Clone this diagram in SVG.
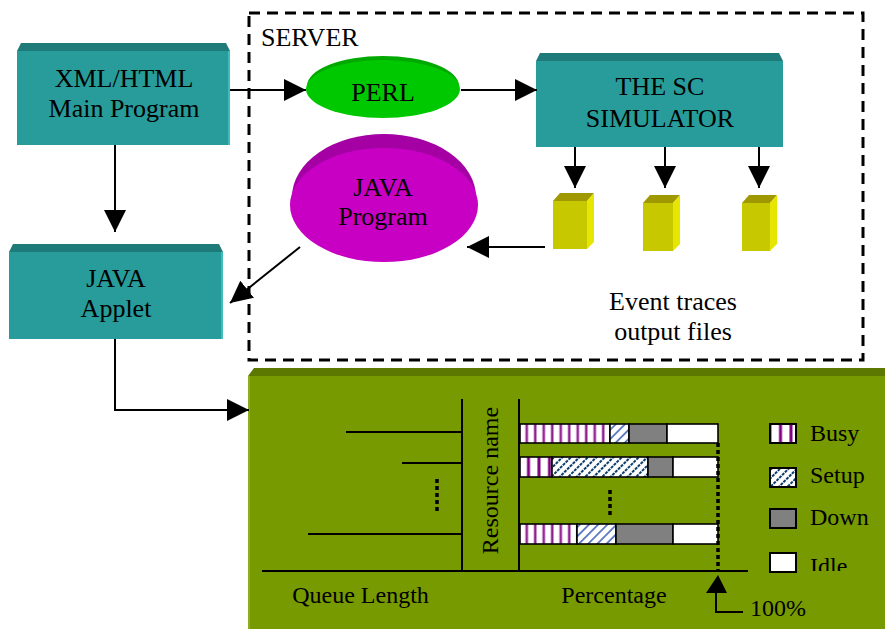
<svg xmlns="http://www.w3.org/2000/svg" width="885" height="629" viewBox="0 0 885 629">
  <defs>
    <marker id="arr" markerUnits="userSpaceOnUse" markerWidth="24" markerHeight="24" refX="22" refY="11" orient="auto">
      <path d="M0,0 L22,11 L0,22 z" fill="#000"/>
    </marker>
    <!-- busy: purple vertical stripes -->
    <pattern id="busyThin" patternUnits="userSpaceOnUse" x="520" y="0" width="8.5" height="10">
      <rect width="8.5" height="10" fill="#fff"/>
      <rect x="5" width="3.5" height="10" fill="#d8a8d8"/>
      <rect x="5.8" width="1.9" height="10" fill="#8e1e8e"/>
    </pattern>
    <pattern id="busyThick" patternUnits="userSpaceOnUse" x="520" y="0" width="10.5" height="10">
      <rect width="10.5" height="10" fill="#fff"/>
      <rect x="7" width="3" height="10" fill="#800080"/>
    </pattern>
    <!-- setup: diagonal hatching -->
    <pattern id="setupLight" patternUnits="userSpaceOnUse" width="6.5" height="8" patternTransform="rotate(45)">
      <rect width="6.5" height="8" fill="#fff"/>
      <rect x="0" width="1.8" height="8" fill="#5a78c0"/>
    </pattern>
    <pattern id="setupDark" patternUnits="userSpaceOnUse" width="6" height="8" patternTransform="rotate(45)">
      <rect width="6" height="8" fill="#fff"/>
      <line x1="1" y1="0" x2="1" y2="8" stroke="#0c3c6c" stroke-width="2" stroke-dasharray="3 1"/>
    </pattern>
    <clipPath id="idleClip">
      <rect x="800" y="540" width="85" height="31"/>
    </clipPath>
    <style>
      .t { font-family: "Liberation Serif", "Times New Roman", serif; fill: #000; }
      .big { font-size: 26px; text-anchor: middle; }
      .mid { font-size: 24px; }
      .face { fill: #279c9a; }
      .bevel { fill: #1f7b79; }
      .edge { fill: #3fbcbc; }
      .conn { stroke: #000; stroke-width: 2; fill: none; }
      .cubeF { fill: #c8c800; }
      .cubeT { fill: #a09800; }
      .cubeS { fill: #e6e600; }
      .bar { stroke: #000; stroke-width: 1.6; }
      .dots { stroke: #000; stroke-width: 3.5; stroke-dasharray: 4 3; fill: none; }
      .axis { stroke: #000; stroke-width: 2; fill: none; }
    </style>
  </defs>

  <rect width="885" height="629" fill="#fff"/>

  <!-- server boundary -->
  <g id="server">
    <rect x="249" y="13" width="614" height="347" fill="none" stroke="#000" stroke-width="3" stroke-dasharray="11 7"/>
    <text class="t" x="261" y="46" font-size="26">SERVER</text>
  </g>

  <!-- XML/HTML main program -->
  <g id="xml-main">
    <polygon class="bevel" points="17,51 21,43 226,43 230,51"/>
    <rect class="face" x="17" y="51" width="213" height="94"/>
    <rect class="edge" x="228" y="51" width="2" height="94"/>
    <text class="t big" x="124" y="87">XML/HTML</text>
    <text class="t big" x="124" y="117">Main Program</text>
  </g>

  <!-- PERL -->
  <g id="perl">
    <ellipse cx="383" cy="86" rx="76" ry="30" fill="#00a800"/>
    <ellipse cx="383" cy="89" rx="77" ry="29" fill="#00c800"/>
    <text class="t big" x="383" y="101">PERL</text>
  </g>

  <!-- simulator -->
  <g id="simulator">
    <polygon class="bevel" points="536,61 540,53 779,53 783,61"/>
    <rect class="face" x="536" y="61" width="247" height="86"/>
    <text class="t big" x="660" y="95">THE SC</text>
    <text class="t big" x="660" y="127">SIMULATOR</text>
  </g>

  <!-- event trace files -->
  <g id="trace-file-1">
    <polygon class="cubeT" points="553,201 560,193 594,193 587,201"/>
    <polygon class="cubeS" points="587,201 594,193 594,242 587,249"/>
    <rect class="cubeF" x="553" y="201" width="34" height="48"/>
  </g>
  <g id="trace-file-2">
    <polygon class="cubeT" points="643,203 650,195 680,195 673,203"/>
    <polygon class="cubeS" points="673,203 680,195 680,244 673,251"/>
    <rect class="cubeF" x="643" y="203" width="30" height="48"/>
  </g>
  <g id="trace-file-3">
    <polygon class="cubeT" points="742,203 749,195 777,195 770,203"/>
    <polygon class="cubeS" points="770,203 777,195 777,244 770,251"/>
    <rect class="cubeF" x="742" y="203" width="28" height="48"/>
  </g>
  <g id="trace-label">
    <text class="t big" x="673" y="310">Event traces</text>
    <text class="t big" x="673" y="340">output files</text>
  </g>

  <!-- JAVA program -->
  <g id="java-program">
    <ellipse cx="384" cy="197" rx="92" ry="63" fill="#a400a4"/>
    <ellipse cx="384" cy="205" rx="94" ry="57" fill="#c800c4"/>
    <text class="t big" x="383" y="196">JAVA</text>
    <text class="t big" x="383" y="225">Program</text>
  </g>

  <!-- JAVA applet -->
  <g id="java-applet">
    <polygon class="bevel" points="9,252 13,244 219,244 223,252"/>
    <rect class="face" x="9" y="252" width="214" height="87"/>
    <rect class="edge" x="221" y="252" width="2" height="87"/>
    <text class="t big" x="116" y="287">JAVA</text>
    <text class="t big" x="116" y="317">Applet</text>
  </g>

  <!-- result chart panel -->
  <g id="chart">
    <polygon points="248,376 254,368 885,368 885,376" fill="#5c7800"/>
    <rect x="248" y="376" width="637" height="253" fill="#779a00"/>
    <rect x="248" y="376" width="2" height="253" fill="#8cae20"/>

    <!-- queue length side -->
    <path class="axis" d="M262,571 H748 M462,399 V572 M519,399 V572"/>
    <path class="axis" d="M346,432 H462 M402,463 H462 M308,534 H462"/>
    <path class="dots" d="M437,479 V513"/>
    <text class="t mid" transform="translate(498,480.5) rotate(-90)" text-anchor="middle">Resource name</text>
    <text class="t mid" x="360.5" y="603" text-anchor="middle">Queue Length</text>

    <!-- bar 1 -->
    <rect class="bar" x="520" y="424" width="90" height="19" fill="url(#busyThin)"/>
    <rect class="bar" x="610" y="424" width="19" height="19" fill="url(#setupLight)"/>
    <rect class="bar" x="629" y="424" width="38" height="19" fill="#808080"/>
    <rect class="bar" x="667" y="424" width="51" height="19" fill="#fff"/>
    <!-- bar 2 -->
    <rect class="bar" x="520" y="457" width="32" height="20" fill="url(#busyThick)"/>
    <rect class="bar" x="552" y="457" width="96" height="20" fill="url(#setupDark)"/>
    <rect class="bar" x="648" y="457" width="25" height="20" fill="#808080"/>
    <rect class="bar" x="673" y="457" width="45" height="20" fill="#fff"/>
    <!-- bar 3 -->
    <rect class="bar" x="520" y="524" width="57" height="20" fill="url(#busyThin)"/>
    <rect class="bar" x="577" y="524" width="39" height="20" fill="url(#setupLight)"/>
    <rect class="bar" x="616" y="524" width="57" height="20" fill="#808080"/>
    <rect class="bar" x="673" y="524" width="45" height="20" fill="#fff"/>

    <path class="dots" d="M610,490 V517"/>
    <path class="dots" d="M718,443 V571"/>
    <polygon points="718,575 706,593 727,593" fill="#000"/>
    <path class="axis" d="M716,593 V612 H743"/>
    <text class="t mid" x="750" y="616">100%</text>
    <text class="t mid" x="614" y="603" text-anchor="middle">Percentage</text>

    <!-- legend -->
    <rect x="770" y="424" width="26" height="19" fill="url(#busyThick)" stroke="#000" stroke-width="2"/>
    <rect x="770" y="468" width="26" height="19" fill="url(#setupDark)" stroke="#000" stroke-width="2"/>
    <rect x="770" y="509" width="26" height="19" fill="#808080" stroke="#000" stroke-width="2"/>
    <rect x="770" y="553" width="26" height="19" fill="#fff" stroke="#000" stroke-width="2"/>
    <text class="t mid" x="810" y="441">Busy</text>
    <text class="t mid" x="810" y="483">Setup</text>
    <text class="t mid" x="810" y="525">Down</text>
    <text class="t mid" x="810" y="574" clip-path="url(#idleClip)">Idle</text>
  </g>

  <!-- connectors -->
  <g id="connectors" class="conn" marker-end="url(#arr)">
    <path d="M230,90 H306"/>
    <path d="M461,90 H537"/>
    <path d="M575,147 V188"/>
    <path d="M665,147 V188"/>
    <path d="M759,147 V188"/>
    <path d="M545,247 H467"/>
    <path d="M300,247 L230,303"/>
    <path d="M115,145 V232"/>
    <path d="M115,339 V410 H249"/>
  </g>
</svg>
